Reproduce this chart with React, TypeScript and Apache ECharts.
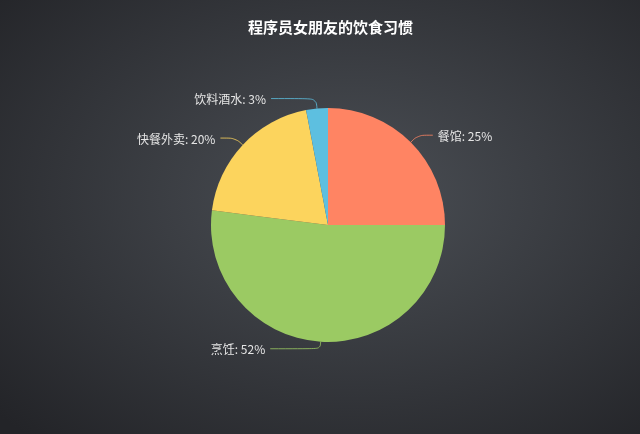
import React, { useEffect, useRef } from "react";
import * as echarts from "echarts";

const titleText = "程序员女朋友的饮食习惯";
const categories = ["餐馆", "烹饪", "快餐外卖", "饮料酒水"];
const values = [25, 52, 20, 3];
const colors = ["#ff8463", "#9bca63", "#fcd45d", "#5dbfe0"];
const lineLengths = [10, 7, 10, 10];
const lineLengths2 = [15, 50, 15, 45];

export default function App() {
  const ref = useRef<HTMLDivElement>(null);
  useEffect(() => {
    if (!ref.current) return;
    const chart = echarts.init(ref.current, undefined, { renderer: "svg" });
    chart.setOption({
      animation: false,
      backgroundColor: {
        type: "radial",
        x: 0.55,
        y: 0.45,
        r: 0.75,
        colorStops: [
          { offset: 0, color: "#4b4f55" },
          { offset: 1, color: "#232428" },
        ],
      },
      title: {
        text: titleText,
        left: 243,
        top: 14,
        textStyle: {
          color: "#ffffff",
          fontSize: 15,
          fontWeight: "bold",
          fontFamily: "Noto Sans CJK SC",
        },
      },
      series: [
        {
          type: "pie",
          center: [328, 225],
          radius: 117,
          startAngle: 90,
          clockwise: true,
          data: categories.map((name, i) => ({
            name,
            value: values[i],
            itemStyle: { color: colors[i] },
            labelLine: { length: lineLengths[i], length2: lineLengths2[i] },
          })),
          label: {
            show: true,
            formatter: "{b}: {d}%",
            color: "#e6e6e6",
            fontSize: 12,
            fontFamily: "Noto Sans CJK SC",
          },
          labelLine: {
            length: 10,
            length2: 15,
            smooth: 0.4,
            lineStyle: { opacity: 0.8 },
          },
          itemStyle: { borderWidth: 0 },
        },
      ],
    });
    return () => chart.dispose();
  }, []);
  return (
    <div
      ref={ref}
      style={{ position: "fixed", left: 0, top: 0, width: 640, height: 434 }}
    />
  );
}
